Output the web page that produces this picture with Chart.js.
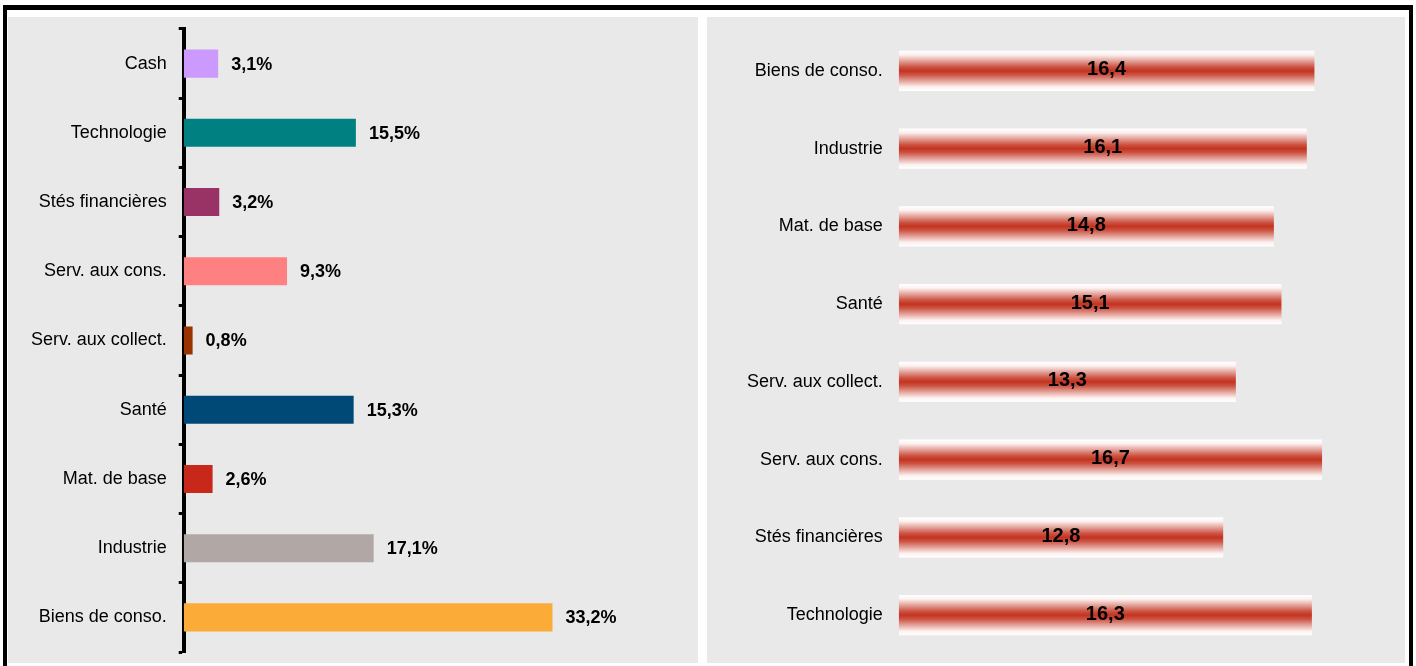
<!DOCTYPE html>
<html><head><meta charset="utf-8">
<script src="https://cdn.jsdelivr.net/npm/chart.js@4"></script>
<style>
html,body{margin:0;padding:0;background:#fff;width:1416px;height:666px;overflow:hidden;}
#frame{position:absolute;left:3px;top:5px;width:1402px;height:700px;border-style:solid;border-color:#000;border-width:5px 4px 0 4px;}
.panel{position:absolute;top:17px;height:646px;background:#e9e9e9;}
#p1{left:8px;width:690px;}
#p2{left:707px;width:698px;}
canvas{display:block;}
</style></head>
<body>
<div id="frame"></div>
<div class="panel" id="p1"><canvas id="c1"></canvas></div>
<div class="panel" id="p2"><canvas id="c2"></canvas></div>
<script>
const leftCategories = ['Cash','Technologie','Stés financières','Serv. aux cons.','Serv. aux collect.','Santé','Mat. de base','Industrie','Biens de conso.'];
const leftValues = [3.1, 15.5, 3.2, 9.3, 0.8, 15.3, 2.6, 17.1, 33.2];
const leftColors = ['#cc99ff','#008080','#993366','#ff8080','#993300','#004876','#c8281a','#b1a7a4','#fbab38'];

const rightCategories = ['Biens de conso.','Industrie','Mat. de base','Santé','Serv. aux collect.','Serv. aux cons.','Stés financières','Technologie'];
const rightValues = [16.4, 16.1, 14.8, 15.1, 13.3, 16.7, 12.8, 16.3];

const FONT = "'Liberation Sans', Arial, sans-serif";
Chart.defaults.font.family = FONT;
Chart.defaults.color = '#000';

function fmt(v){ return v.toFixed(1).replace('.', ','); }
function noVerticalPad(scale){ scale.paddingTop = 0; scale.paddingBottom = 0; }

const endLabels = {
  id: 'endLabels',
  afterDatasetsDraw(chart){
    const ctx = chart.ctx, meta = chart.getDatasetMeta(0);
    ctx.save();
    ctx.font = "bold 18px " + FONT;
    ctx.fillStyle = '#000';
    ctx.textAlign = 'left';
    ctx.textBaseline = 'middle';
    meta.data.forEach((bar, i) => {
      ctx.fillText(fmt(chart.data.datasets[0].data[i]) + '%', bar.x + 13, bar.y + 1);
    });
    ctx.restore();
  }
};

const centerLabels = {
  id: 'centerLabels',
  afterDatasetsDraw(chart){
    const ctx = chart.ctx, meta = chart.getDatasetMeta(0);
    ctx.save();
    ctx.font = "bold 20px " + FONT;
    ctx.fillStyle = '#000';
    ctx.textAlign = 'center';
    ctx.textBaseline = 'middle';
    meta.data.forEach((bar, i) => {
      ctx.fillText(fmt(chart.data.datasets[0].data[i]), (bar.x + bar.base) / 2, bar.y - 1);
    });
    ctx.restore();
  }
};

const RIGHT_BAR_PCT = 0.515;
function redGradient(c){
  const chart = c.chart, ys = chart.scales.y;
  if (!ys || c.dataIndex === undefined || !chart.chartArea) return '#c4331f';
  const center = ys.getPixelForValue(c.dataIndex);
  const h = (chart.chartArea.height / rightValues.length) * RIGHT_BAR_PCT;
  const g = chart.ctx.createLinearGradient(0, center - h/2, 0, center + h/2);
  g.addColorStop(0, '#ffffff');
  g.addColorStop(0.1, '#fcf1f0');
  g.addColorStop(0.4, '#cc5444');
  g.addColorStop(0.5, '#c4331f');
  g.addColorStop(0.6, '#cc5444');
  g.addColorStop(0.9, '#fcf1f0');
  g.addColorStop(1, '#ffffff');
  return g;
}

new Chart(document.getElementById('c1'), {
  type: 'bar',
  data: { labels: leftCategories, datasets: [{ data: leftValues, backgroundColor: leftColors, borderWidth: 0, categoryPercentage: 1, barPercentage: 0.405 }] },
  options: {
    indexAxis: 'y', responsive: true, maintainAspectRatio: false, animation: false, devicePixelRatio: 1,
    layout: { autoPadding: false, padding: { left: 11, right: 70, top: 12, bottom: 11 } },
    plugins: { legend: { display: false }, tooltip: { enabled: false } },
    scales: {
      x: { display: false, min: 0, max: 40 },
      y: {
        z: 1,
        afterFit: noVerticalPad,
        border: { display: true, color: '#000', width: 4 },
        grid: { display: true, drawOnChartArea: false, drawTicks: true, tickLength: 5, tickWidth: 3, tickColor: '#000', offset: true },
        ticks: { color: '#000', font: { size: 18 }, padding: 12, autoSkip: false }
      }
    }
  },
  plugins: [endLabels]
});

new Chart(document.getElementById('c2'), {
  type: 'bar',
  data: { labels: rightCategories, datasets: [{ data: rightValues, backgroundColor: redGradient, borderWidth: 0, categoryPercentage: 1, barPercentage: RIGHT_BAR_PCT }] },
  options: {
    indexAxis: 'y', responsive: true, maintainAspectRatio: false, animation: false, devicePixelRatio: 1,
    layout: { autoPadding: false, padding: { left: 24, right: 50, top: 15, bottom: 9 } },
    plugins: { legend: { display: false }, tooltip: { enabled: false } },
    scales: {
      x: { display: false, min: 0, max: 18 },
      y: {
        afterFit: noVerticalPad,
        border: { display: false },
        grid: { display: false, drawTicks: false },
        ticks: { color: '#000', font: { size: 18 }, padding: 16, autoSkip: false }
      }
    }
  },
  plugins: [centerLabels]
});
</script>
</body></html>
